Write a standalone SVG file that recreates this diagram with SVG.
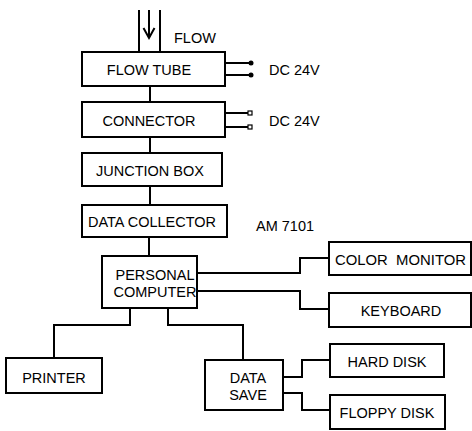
<svg xmlns="http://www.w3.org/2000/svg" width="472" height="431" viewBox="0 0 472 431">
<style>
.box{fill:#fff;stroke:#000;stroke-width:2}
.ln{fill:none;stroke:#000;stroke-width:2}
text{font-family:"Liberation Sans",Arial,sans-serif;font-size:14.5px;fill:#000}
.c{text-anchor:middle}
</style>
<rect width="472" height="431" fill="#fff"/>
<g id="connectors">
<path class="ln" d="M139,10V52M160,10V52"/>
<path class="ln" d="M149,10V38M143.5,28L149,38L154.5,28"/>
<path class="ln" d="M150,86V102M150,137V153M150,186V205M149,237V256"/>
<path class="ln" d="M225,63H250M225,75H250"/>
<circle cx="251" cy="63" r="2.5"/>
<circle cx="251" cy="75" r="2.5"/>
<path class="ln" d="M225,113H248M225,127H248"/>
<rect x="248" y="111" width="4" height="4" fill="#fff" stroke="#000" stroke-width="1.2"/>
<rect x="248" y="125" width="4" height="4" fill="#fff" stroke="#000" stroke-width="1.2"/>
<path class="ln" d="M197,273H300V258H329M197,291H300V309H329"/>
<path class="ln" d="M130,308V325H54V358M168,308V325H243V360"/>
<path class="ln" d="M283,377H302V360H330M283,393H302V410H330"/>
</g>
<text x="174" y="43">FLOW</text>
<g id="flow-tube"><rect class="box" x="82" y="52" width="143" height="34"/><text class="c" x="149" y="75">FLOW TUBE</text></g>
<text x="269" y="75">DC 24V</text>
<g id="connector"><rect class="box" x="82" y="102" width="143" height="35"/><text class="c" x="149" y="126">CONNECTOR</text></g>
<text x="269" y="126">DC 24V</text>
<g id="junction-box"><rect class="box" x="82" y="153" width="140" height="33"/><text class="c" x="150" y="176">JUNCTION BOX</text></g>
<g id="data-collector"><rect class="box" x="82" y="205" width="145" height="32"/><text class="c" x="152" y="227" textLength="128" lengthAdjust="spacingAndGlyphs">DATA COLLECTOR</text></g>
<text x="256" y="231">AM 7101</text>
<g id="personal-computer"><rect class="box" x="102" y="256" width="95" height="52"/><text class="c" x="155" y="280">PERSONAL</text><text class="c" x="155" y="297">COMPUTER</text></g>
<g id="color-monitor"><rect class="box" x="329" y="242" width="142" height="33"/><text x="335" y="265" textLength="131" lengthAdjust="spacingAndGlyphs" xml:space="preserve">COLOR  MONITOR</text></g>
<g id="keyboard"><rect class="box" x="329" y="293" width="142" height="34"/><text class="c" x="401" y="316">KEYBOARD</text></g>
<g id="printer"><rect class="box" x="6" y="358" width="96" height="35"/><text class="c" x="54" y="383">PRINTER</text></g>
<g id="data-save"><rect class="box" x="205" y="360" width="78" height="50"/><text class="c" x="248" y="383">DATA</text><text class="c" x="248" y="400">SAVE</text></g>
<g id="hard-disk"><rect class="box" x="330" y="344" width="114" height="33"/><text class="c" x="387" y="367">HARD DISK</text></g>
<g id="floppy-disk"><rect class="box" x="330" y="395" width="115" height="34"/><text class="c" x="387" y="418">FLOPPY DISK</text></g>
</svg>
